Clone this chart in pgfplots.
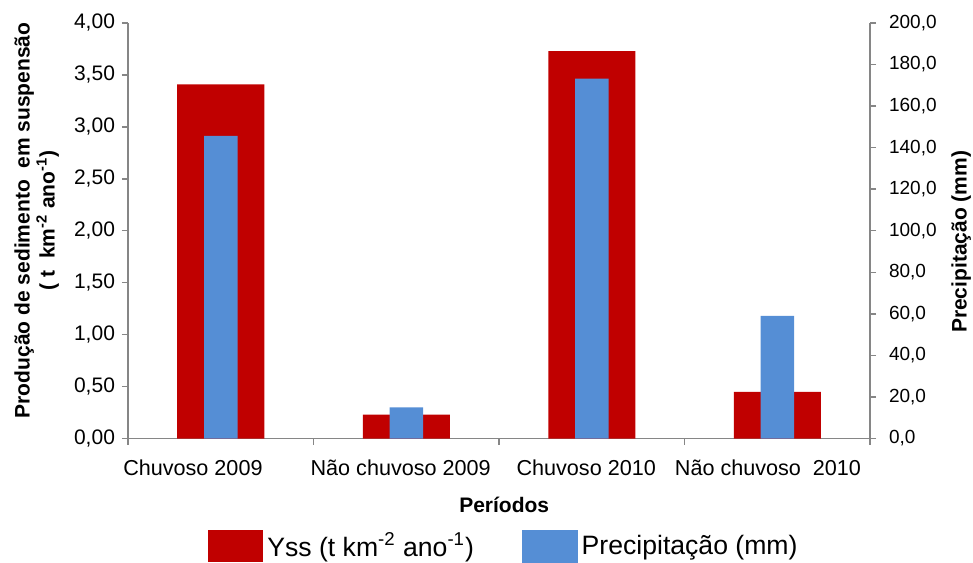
\documentclass[border=0pt]{standalone}
\usepackage{pgfplots}
\pgfplotsset{compat=1.18}
\usepackage{fontspec}
\setmainfont{Liberation Sans}
\definecolor{barred}{HTML}{C00000}
\definecolor{barblue}{HTML}{558ED5}
\definecolor{axgray}{HTML}{868686}
\begin{document}
\begin{tikzpicture}
\path[use as bounding box] (-64pt,-61.75pt) rectangle (422.5pt,219.25pt);
\pgfplotsset{
  every axis/.append style={
    width=371pt, height=207.75pt, scale only axis,
    at={(0,0)}, anchor=south west,
    xmin=-0.5, xmax=3.5, ymin=0, enlargelimits=false,
    tick align=outside,
    axis line style={axgray, line width=0.7pt},
    tick style={axgray, line width=0.7pt},
    major tick length=3pt, minor tick length=3pt,
    /pgf/number format/assume math mode=true,
    tick label style={font=\fontsize{10.5}{12.5}\selectfont},
    label style={font=\bfseries\fontsize{10.5}{12.5}\selectfont},
  },
}
\begin{axis}[
  axis x line*=bottom, axis y line*=left,
  ymax=4, ytick={0,0.5,1,1.5,2,2.5,3,3.5,4},
  yticklabel style={/pgf/number format/fixed, /pgf/number format/precision=2,
    /pgf/number format/fixed zerofill, /pgf/number format/use comma},
  xtick={-0.15,0.97,1.97,2.95},
  xticklabels={Chuvoso 2009, Não chuvoso 2009, Chuvoso 2010, Não chuvoso\ \ 2010},
  xticklabel style={font=\fontsize{10.8}{12.8}\selectfont, yshift=-4pt},
  major x tick style={draw=none},
  minor xtick={-0.5,0.5,1.5,2.5,3.5},
  xlabel={Períodos},
  xlabel style={at={(axis description cs:0.507,-0.16)}, anchor=center},
  ylabel={Produção de sedimento\ \ em suspensão\\( t\ \ km\textsuperscript{-2} ano\textsuperscript{-1})},
  ylabel style={at={(axis description cs:-0.123,0.525)}, anchor=center, align=center},
  legend columns=2,
  legend style={at={(axis description cs:0.508,-0.259)}, anchor=center, draw=none,
    font=\fontsize{13.3}{15}\selectfont,
    /tikz/every even column/.append style={column sep=22pt}},
  legend cell align=left,
]
\addplot[ybar, bar width=43.5pt, bar shift=0pt, fill=barred, draw=none,
  legend image code/.code={\fill[barred] (0pt,-8pt) rectangle (27.5pt,8pt);}]
  coordinates {(0,3.41) (1,0.23) (2,3.73) (3,0.45)};
\addlegendentry{Yss (t km\textsuperscript{-2} ano\textsuperscript{-1})}
\addlegendimage{legend image code/.code={\fill[barblue] (0pt,-8pt) rectangle (27.5pt,8pt);}}
\addlegendentry{Precipitação (mm)}
\end{axis}
\begin{axis}[
  axis x line=none, axis y line*=right,
  ymax=200, ytick={0,20,40,60,80,100,120,140,160,180,200},
  yticklabel style={font=\fontsize{9.5}{11.5}\selectfont, xshift=3pt,
    /pgf/number format/fixed, /pgf/number format/precision=1,
    /pgf/number format/fixed zerofill, /pgf/number format/use comma},
  ylabel={Precipitação (mm)},
  ylabel style={at={(axis description cs:1.123,0.473)}, anchor=center},
]
\addplot[ybar, bar width=16.75pt, bar shift=0pt, fill=barblue, draw=none]
  coordinates {(0,145.7) (1,15.0) (2,173.2) (3,59.0)};
\end{axis}
\end{tikzpicture}
\end{document}
